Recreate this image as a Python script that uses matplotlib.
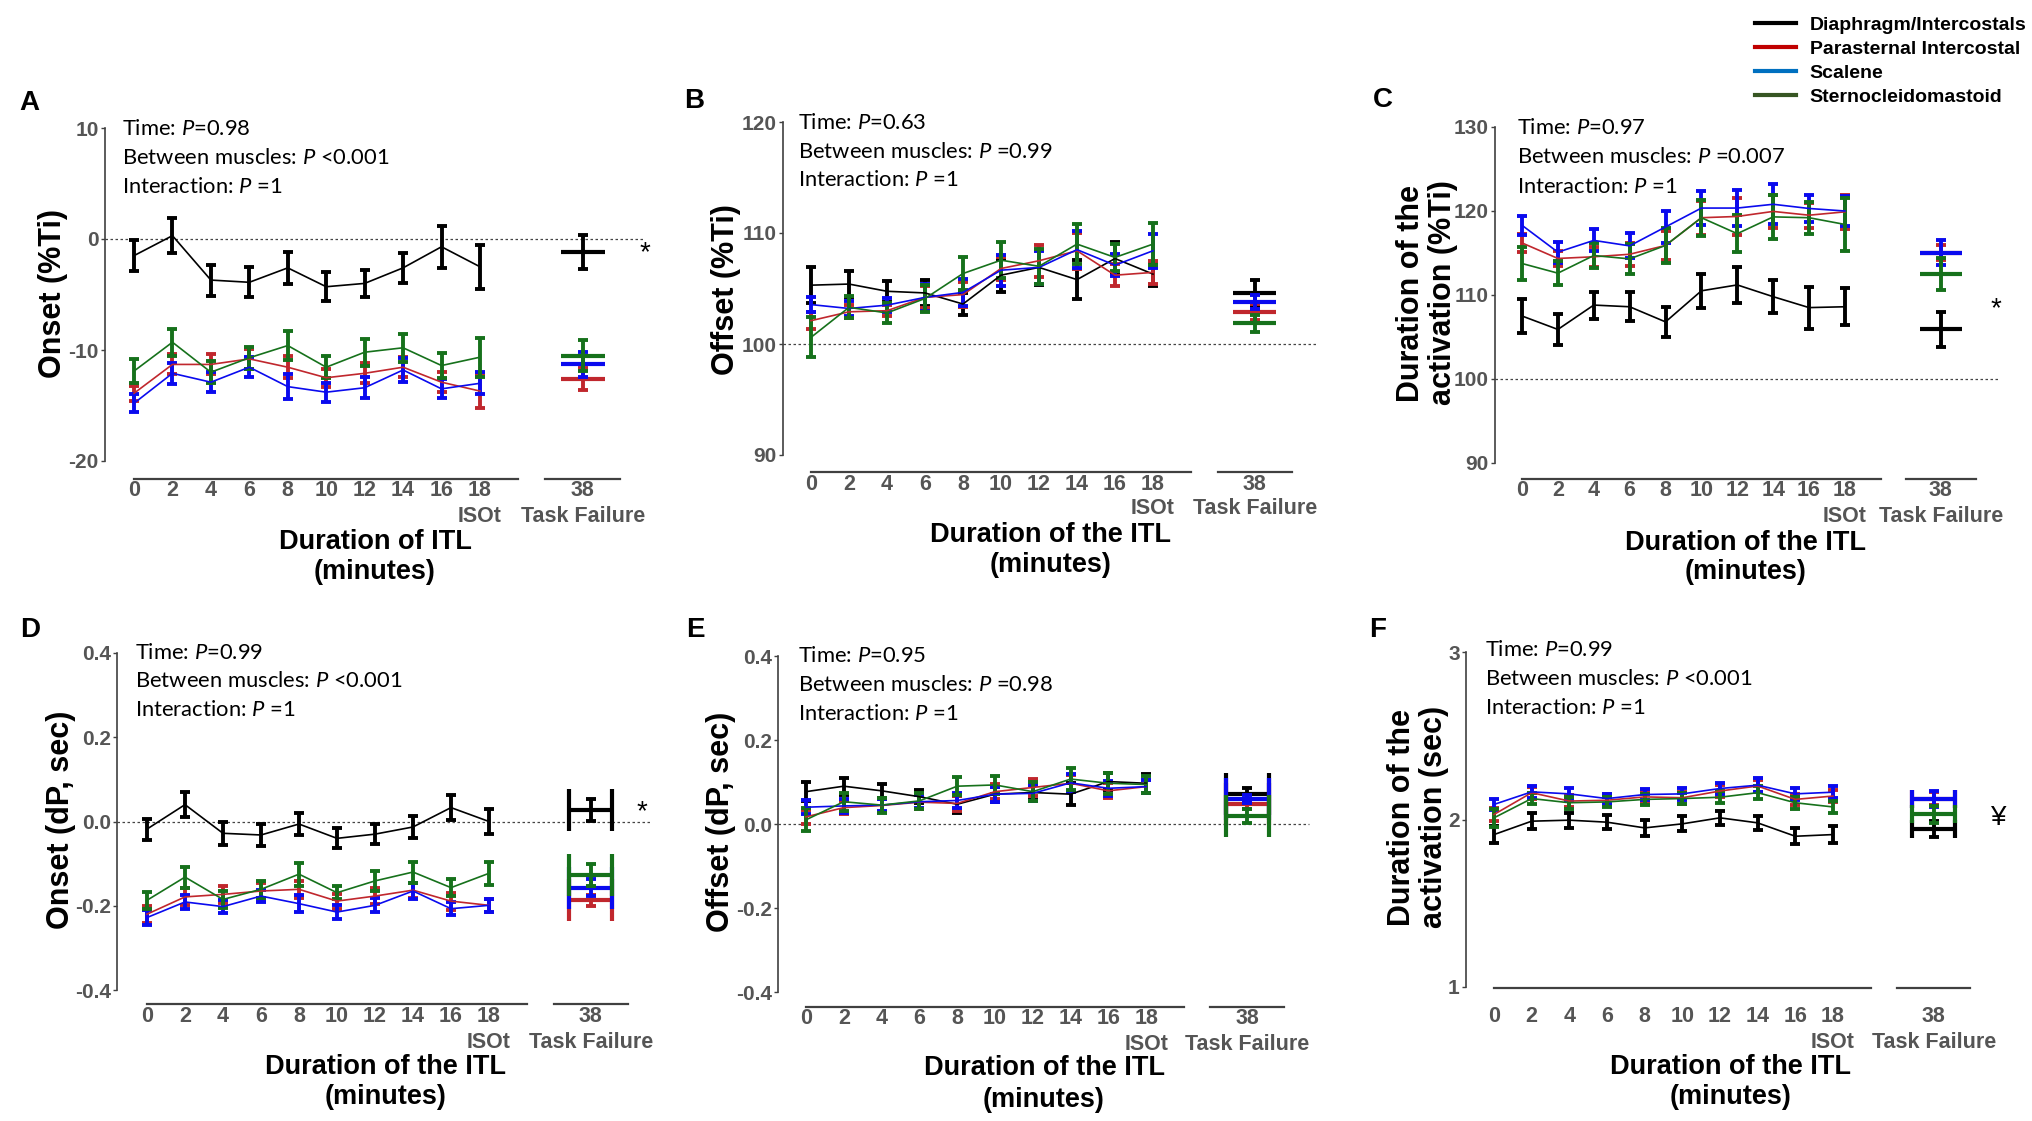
# Respiratory muscle activation timing during the ITL, panels A-F
import matplotlib
matplotlib.use("Agg")
import matplotlib.pyplot as plt
from matplotlib.lines import Line2D
from matplotlib.transforms import blended_transform_factory

plt.rcParams['font.family'] = ['Liberation Sans', 'DejaVu Sans']
plt.rcParams['mathtext.fontset'] = 'custom'
plt.rcParams['mathtext.rm'] = 'Lato'
plt.rcParams['mathtext.it'] = 'Lato:italic'

#***data (10 ITL time points, last value = task failure)
minutes = [0, 2, 4, 6, 8, 10, 12, 14, 16, 18]
tf_label = '38'
muscles = ['Diaphragm/Intercostals', 'Parasternal Intercostal', 'Scalene', 'Sternocleidomastoid']

# A: onset (%Ti)
onset_ti_dia = [-1.5, 0.3, -3.7, -3.9, -2.6, -4.3, -4.0, -2.6, -0.7, -2.5, -1.15]
onset_ti_dia_err = [1.4, 1.6, 1.4, 1.35, 1.45, 1.3, 1.2, 1.35, 1.9, 2.0, 1.55]
onset_ti_para = [-13.9, -11.3, -11.3, -10.8, -11.55, -12.5, -12.1, -11.55, -12.9, -13.7, -12.6]
onset_ti_para_err = [0.7, 0.9, 0.9, 0.9, 1.0, 0.8, 0.9, 0.9, 0.9, 1.5, 1.0]
onset_ti_scal = [-14.8, -12.1, -12.9, -11.55, -13.3, -13.8, -13.4, -11.8, -13.5, -13.0, -11.3]
onset_ti_scal_err = [0.8, 0.95, 0.9, 0.9, 1.1, 0.85, 0.95, 1.05, 0.85, 1.0, 1.1]
onset_ti_scm = [-11.9, -9.3, -12.0, -10.7, -9.6, -11.55, -10.2, -9.8, -11.4, -10.65, -10.5]
onset_ti_scm_err = [1.05, 1.2, 1.0, 1.0, 1.3, 1.0, 1.2, 1.25, 1.1, 1.75, 1.4]

# B: offset (%Ti)
offset_ti_dia = [105.3, 105.4, 104.75, 104.6, 103.6, 106.2, 106.9, 105.8, 107.7, 106.3, 104.6]
offset_ti_dia_err = [1.6, 1.2, 0.95, 1.2, 1.0, 1.5, 1.55, 1.75, 1.5, 1.1, 1.2]
offset_ti_para = [102.1, 102.9, 103.0, 104.2, 104.45, 106.8, 107.5, 108.4, 106.2, 106.45, 102.9]
offset_ti_para_err = [0.75, 0.6, 0.5, 1.0, 1.1, 1.0, 1.45, 1.6, 1.0, 1.0, 0.7]
offset_ti_scal = [103.55, 103.2, 103.5, 104.2, 104.65, 106.65, 106.9, 108.5, 107.1, 108.4, 103.8]
offset_ti_scal_err = [0.65, 0.7, 0.65, 1.2, 1.2, 1.4, 1.45, 1.65, 1.0, 1.55, 0.65]
offset_ti_scm = [100.6, 103.3, 102.8, 104.1, 106.35, 107.55, 107.0, 109.0, 107.8, 109.0, 101.85]
offset_ti_scm_err = [1.8, 1.0, 0.9, 1.25, 1.5, 1.6, 1.6, 1.8, 1.2, 1.9, 0.75]

# C: duration of the activation (%Ti)
dur_ti_dia = [107.5, 105.9, 108.8, 108.6, 106.8, 110.5, 111.2, 109.8, 108.5, 108.6, 105.9]
dur_ti_dia_err = [2.0, 1.85, 1.6, 1.7, 1.8, 2.05, 2.1, 2.0, 2.5, 2.2, 2.05]
dur_ti_para = [116.2, 114.35, 114.55, 114.85, 115.9, 119.2, 119.35, 119.95, 119.5, 119.9, 115.05]
dur_ti_para_err = [1.1, 0.9, 1.2, 1.4, 1.7, 2.0, 2.2, 2.0, 1.5, 2.0, 0.9]
dur_ti_scal = [118.3, 115.1, 116.5, 115.85, 118.1, 120.35, 120.35, 120.8, 120.3, 120.0, 115.05]
dur_ti_scal_err = [1.15, 1.25, 1.3, 1.5, 1.9, 2.0, 2.1, 2.4, 1.65, 1.8, 1.5]
dur_ti_scm = [113.75, 112.6, 114.7, 114.3, 115.9, 119.2, 117.3, 119.3, 119.2, 118.4, 112.5]
dur_ti_scm_err = [2.0, 1.45, 1.5, 1.75, 2.1, 2.15, 2.2, 2.65, 1.9, 3.15, 1.95]

# D: onset (dP, sec)
onset_s_dia = [-0.018, 0.04, -0.028, -0.032, -0.006, -0.04, -0.03, -0.013, 0.033, 0.0, 0.028]
onset_s_dia_err = [0.025, 0.03, 0.028, 0.025, 0.027, 0.024, 0.024, 0.026, 0.03, 0.029, 0.026]
onset_s_para = [-0.22, -0.179, -0.173, -0.165, -0.161, -0.189, -0.177, -0.163, -0.189, -0.199, -0.187]
onset_s_para_err = [0.02, 0.02, 0.02, 0.018, 0.02, 0.018, 0.02, 0.018, 0.02, 0.015, 0.013]
onset_s_scal = [-0.228, -0.191, -0.202, -0.177, -0.195, -0.215, -0.199, -0.165, -0.207, -0.199, -0.157]
onset_s_scal_err = [0.017, 0.017, 0.016, 0.015, 0.02, 0.016, 0.017, 0.018, 0.015, 0.015, 0.021]
onset_s_scm = [-0.187, -0.132, -0.185, -0.161, -0.125, -0.169, -0.141, -0.12, -0.157, -0.123, -0.128]
onset_s_scm_err = [0.02, 0.025, 0.021, 0.02, 0.027, 0.016, 0.024, 0.025, 0.02, 0.028, 0.026]

# E: offset (dP, sec)
offset_s_dia = [0.077, 0.09, 0.079, 0.065, 0.047, 0.071, 0.075, 0.071, 0.101, 0.097, 0.071]
offset_s_dia_err = [0.022, 0.02, 0.017, 0.016, 0.02, 0.018, 0.018, 0.026, 0.021, 0.022, 0.015]
offset_s_para = [0.017, 0.039, 0.044, 0.052, 0.049, 0.077, 0.087, 0.097, 0.079, 0.089, 0.047]
offset_s_para_err = [0.016, 0.015, 0.015, 0.016, 0.018, 0.018, 0.02, 0.02, 0.018, 0.016, 0.012]
offset_s_scal = [0.04, 0.043, 0.045, 0.053, 0.056, 0.071, 0.073, 0.098, 0.085, 0.089, 0.06]
offset_s_scal_err = [0.017, 0.016, 0.015, 0.016, 0.018, 0.018, 0.019, 0.022, 0.018, 0.016, 0.01]
offset_s_scm = [0.01, 0.053, 0.045, 0.055, 0.09, 0.093, 0.077, 0.107, 0.097, 0.094, 0.019]
offset_s_scm_err = [0.027, 0.022, 0.018, 0.02, 0.022, 0.022, 0.022, 0.027, 0.025, 0.02, 0.016]

# F: duration of the activation (sec)
dur_s_dia = [1.91, 1.99, 1.996, 1.984, 1.95, 1.974, 2.01, 1.98, 1.90, 1.91, 1.944]
dur_s_dia_err = [0.052, 0.046, 0.045, 0.04, 0.046, 0.045, 0.043, 0.042, 0.048, 0.05, 0.047]
dur_s_para = [2.03, 2.16, 2.11, 2.115, 2.135, 2.13, 2.17, 2.2, 2.12, 2.14, 2.125]
dur_s_para_err = [0.04, 0.035, 0.035, 0.035, 0.035, 0.035, 0.035, 0.035, 0.035, 0.035, 0.04]
dur_s_scal = [2.09, 2.165, 2.153, 2.125, 2.149, 2.153, 2.185, 2.205, 2.153, 2.163, 2.123]
dur_s_scal_err = [0.035, 0.035, 0.035, 0.03, 0.035, 0.035, 0.035, 0.04, 0.035, 0.035, 0.047]
dur_s_scm = [2.01, 2.125, 2.10, 2.105, 2.12, 2.125, 2.133, 2.16, 2.10, 2.075, 2.03]
dur_s_scm_err = [0.055, 0.035, 0.035, 0.03, 0.035, 0.035, 0.035, 0.04, 0.035, 0.035, 0.05]

#***style
W, H = 2033, 1121
line_colors = ['black', '#c0272d', '#0a0aee', '#16711b']
legend_colors = ['black', '#c00000', '#0070c0', '#375623']
GRAY = '#555555'
TF_X = 23.35          # plotting position of the task-failure point
X_RIGHT = 27.5
REF_END = 26.6


def fx(px):
    return px / W


def fy(py):
    return 1 - py / H


fig = plt.figure(figsize=(W / 100, H / 100), dpi=100)


def panel(letter, series, ylim, yticks, yticklabels, ylabel, stats, geo,
          ref=None, mark=None, h_caps=None, xlabel='Duration of the ITL\n(minutes)'):
    yax, x0, sc, top, bot = geo['axis']
    xl0 = -(x0 - yax) / sc
    left = fx(yax)
    width = fx(x0 + X_RIGHT * sc) - left
    ax = fig.add_axes([left, fy(bot), width, fy(top) - fy(bot)])
    ax.set_xlim(xl0, X_RIGHT)
    ax.set_ylim(ylim)
    for s in ['top', 'right', 'bottom']:
        ax.spines[s].set_visible(False)
    ax.spines['left'].set_color('#404040')
    ax.spines['left'].set_linewidth(1.2)
    ax.set_xticks([])
    ax.set_yticks(yticks)
    ax.set_yticklabels(yticklabels, fontsize=15, fontweight='bold', color=GRAY)
    ax.tick_params(axis='y', length=3, width=1, pad=1.5, color='#404040')
    ax.patch.set_alpha(0)

    if ref is not None:
        ax.plot([xl0, REF_END], [ref, ref], ls=(0, (2, 2)), color='#444444', lw=0.9, zorder=1)

    for (m, e), c in zip(series, line_colors):
        ax.errorbar(minutes, m[:10], yerr=e[:10], color=c, lw=1.2, elinewidth=2.8,
                    capsize=3.6, capthick=2.8, zorder=3)
        if h_caps is None:
            ax.errorbar(TF_X, m[10], xerr=1.15, fmt='none', ecolor=c, elinewidth=3, capsize=0, zorder=3)
        else:
            ax.errorbar(TF_X, m[10], xerr=1.15, fmt='none', ecolor=c, elinewidth=3,
                        capsize=h_caps, capthick=3, zorder=3)
        ax.errorbar(TF_X, m[10], yerr=e[10], fmt='none', ecolor=c, elinewidth=2.8,
                    capsize=3.6, capthick=2.8, zorder=3)

    if mark is not None:
        ax.text(mark[0], mark[1], mark[2], fontsize=20, ha='center', va='center')

    # broken x axis drawn below the plotting area
    tr = blended_transform_factory(ax.transData, fig.transFigure)
    for a, b in [(0, 20.0), (21.4, 25.3)]:
        ax.plot([a, b], [fy(geo['xline'])] * 2, transform=tr, color='#404040', lw=1.6,
                clip_on=False)
    for t in minutes:
        ax.text(t, fy(geo['tick_y']), str(t), transform=tr, ha='center', va='center',
                fontsize=15.5, fontweight='bold', color=GRAY)
    ax.text(TF_X, fy(geo['tick_y']), tf_label, transform=tr, ha='center', va='center',
            fontsize=15.5, fontweight='bold', color=GRAY)
    ax.text(minutes[-1], fy(geo['sub_y']), 'ISOt', transform=tr, ha='center', va='center',
            fontsize=15.5, fontweight='bold', color=GRAY)
    ax.text(TF_X, fy(geo['sub_y']), 'Task Failure', transform=tr, ha='center', va='center',
            fontsize=15.5, fontweight='bold', color=GRAY)

    xlx, xly1, xly2 = geo['xlabel']
    line1, line2 = xlabel.split('\n')
    fig.text(fx(xlx), fy(xly1), line1, ha='center', va='center', fontsize=19.5, fontweight='bold')
    fig.text(fx(xlx), fy(xly2), line2, ha='center', va='center', fontsize=19.5, fontweight='bold')

    fig.text(fx(geo['ylabel'][0]), fy(geo['ylabel'][1]), ylabel, rotation=90, ha='center',
             va='center', multialignment='center', fontsize=22, fontweight='bold', linespacing=1.05)
    fig.text(fx(geo['letter'][0]), fy(geo['letter'][1]), letter, ha='center', va='center',
             fontsize=20, fontweight='bold')
    sx, sys_ = geo['stats']
    for txt, yy in zip(stats, sys_):
        fig.text(fx(sx), fy(yy), txt, ha='left', va='center', fontsize=15.8, family='Lato')
    return ax


def stats_lines(p_time, p_between, p_inter):
    return ['Time: $\\mathit{P}$=' + p_time,
            'Between muscles: $\\mathit{P}$ ' + p_between,
            'Interaction: $\\mathit{P}$ ' + p_inter]


panel('A',
      [(onset_ti_dia, onset_ti_dia_err), (onset_ti_para, onset_ti_para_err),
       (onset_ti_scal, onset_ti_scal_err), (onset_ti_scm, onset_ti_scm_err)],
      (-20, 10), [-20, -10, 0, 10], ['-20', '-10', '0', '10'], 'Onset (%Ti)',
      stats_lines('0.98', '<0.001', '=1'),
      dict(axis=(105, 134, 19.22, 128, 461), xline=479, tick_y=491, sub_y=516,
           xlabel=(375, 542, 572), letter=(29, 103), stats=(122, [129, 158, 187]), ylabel=(53, 293)),
      ref=0, mark=(26.6, -1.3, '*'), xlabel='Duration of ITL\n(minutes)')

panel('B',
      [(offset_ti_dia, offset_ti_dia_err), (offset_ti_para, offset_ti_para_err),
       (offset_ti_scal, offset_ti_scal_err), (offset_ti_scm, offset_ti_scm_err)],
      (90, 120), [90, 100, 110, 120], ['90', '100', '110', '120'], 'Offset (%Ti)',
      stats_lines('0.63', '=0.99', '=1'),
      dict(axis=(783, 811, 19.0, 122, 455), xline=472, tick_y=484, sub_y=509,
           xlabel=(1051, 535, 565), letter=(694, 101), stats=(798, [123, 152, 180]), ylabel=(726, 290)),
      ref=100)

panel('C',
      [(dur_ti_dia, dur_ti_dia_err), (dur_ti_para, dur_ti_para_err),
       (dur_ti_scal, dur_ti_scal_err), (dur_ti_scm, dur_ti_scm_err)],
      (90, 130), [90, 100, 110, 120, 130], ['90', '100', '110', '120', '130'],
      'Duration of the\nactivation (%Ti)',
      stats_lines('0.97', '=0.007', '=1'),
      dict(axis=(1495, 1522, 17.94, 127, 463), xline=479, tick_y=491, sub_y=517,
           xlabel=(1746, 543, 572), letter=(1383, 100), stats=(1517, [128, 157, 187]), ylabel=(1427, 293)),
      ref=100, mark=(26.4, 108.3, '*'))

panel('D',
      [(onset_s_dia, onset_s_dia_err), (onset_s_para, onset_s_para_err),
       (onset_s_scal, onset_s_scal_err), (onset_s_scm, onset_s_scm_err)],
      (-0.4, 0.4), [-0.4, -0.2, 0.0, 0.2, 0.4], ['-0.4', '-0.2', '0.0', '0.2', '0.4'],
      'Onset (dP, sec)',
      stats_lines('0.99', '<0.001', '=1'),
      dict(axis=(117, 147, 19.0, 653, 990), xline=1004, tick_y=1017, sub_y=1042,
           xlabel=(386, 1067, 1097), letter=(30, 630), stats=(135, [653, 681, 710]), ylabel=(61, 820)),
      ref=0, mark=(26.05, 0.022, '*'), h_caps=15)

panel('E',
      [(offset_s_dia, offset_s_dia_err), (offset_s_para, offset_s_para_err),
       (offset_s_scal, offset_s_scal_err), (offset_s_scm, offset_s_scm_err)],
      (-0.4, 0.4), [-0.4, -0.2, 0.0, 0.2, 0.4], ['-0.4', '-0.2', '0.0', '0.2', '0.4'],
      'Offset (dP, sec)',
      stats_lines('0.95', '=0.98', '=1'),
      dict(axis=(778, 806, 18.9, 656, 992), xline=1007, tick_y=1019, sub_y=1045,
           xlabel=(1044, 1068, 1100), letter=(695, 630), stats=(798, [656, 685, 714]), ylabel=(721, 822)),
      ref=0, h_caps=15)

panel('F',
      [(dur_s_dia, dur_s_dia_err), (dur_s_para, dur_s_para_err),
       (dur_s_scal, dur_s_scal_err), (dur_s_scm, dur_s_scm_err)],
      (1, 3), [1, 2, 3], ['1', '2', '3'], 'Duration of the\nactivation (sec)',
      stats_lines('0.99', '<0.001', '=1'),
      dict(axis=(1466, 1494, 18.83, 652, 987), xline=988, tick_y=1017, sub_y=1042,
           xlabel=(1731, 1067, 1097), letter=(1378, 630), stats=(1485, [650, 679, 708]), ylabel=(1418, 817)),
      mark=(26.8, 2.01, '¥'), h_caps=6.5)

# legend (top right)
handles = [Line2D([0], [0], color=c, lw=3) for c in legend_colors]
fig.legend(handles, muscles, loc='upper left', bbox_to_anchor=(fx(1755), fy(16)),
           frameon=False, prop={'family': 'Liberation Sans', 'weight': 'bold', 'size': 14},
           handlelength=2.1, handletextpad=0.72, labelspacing=0.33, borderaxespad=0, borderpad=0)

fig.savefig('out.png', dpi=100)
